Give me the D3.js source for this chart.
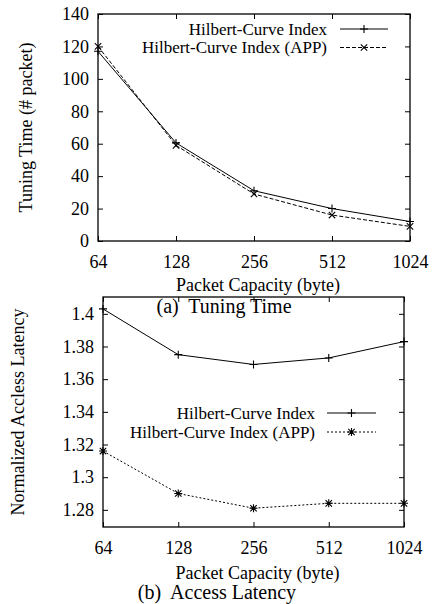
<!DOCTYPE html>
<html>
<head>
<meta charset="utf-8">
<script src="https://cdn.jsdelivr.net/npm/d3@7"></script>
<style>
  body { margin: 0; background: #fff; }
</style>
</head>
<body>
<div id="chart"></div>
<script>
const capacities = [64, 128, 256, 512, 1024];

// (a) tuning time, # packets
const tuningHilbert = [117, 60.5, 31, 20, 12];
const tuningHilbertApp = [120, 59, 29, 16, 9];
const tuningTicks = [0, 20, 40, 60, 80, 100, 120, 140];

// (b) normalized access latency
const latencyHilbert = [1.403, 1.375, 1.369, 1.373, 1.383];
const latencyHilbertApp = [1.316, 1.29, 1.281, 1.284, 1.284];
const latencyTicks = [1.28, 1.3, 1.32, 1.34, 1.36, 1.38, 1.4];

const seriesNames = ["Hilbert-Curve Index", "Hilbert-Curve Index (APP)"];

const width = 434, height = 604;
const tick_len = 5;
const marker_size = 4;
const serif = "'Liberation Serif', 'Times New Roman', serif";

const svg = d3.select("#chart").append("svg")
  .attr("width", width)
  .attr("height", height)
  .attr("font-family", serif);

function marker(g, kind, x, y) {
  const s = marker_size;
  const p = d3.path();
  if (kind === "plus" || kind === "star") {
    p.moveTo(x - s, y); p.lineTo(x + s, y);
    p.moveTo(x, y - s); p.lineTo(x, y + s);
  }
  if (kind === "cross" || kind === "star") {
    const c = s * 0.8;
    p.moveTo(x - c, y - c); p.lineTo(x + c, y + c);
    p.moveTo(x - c, y + c); p.lineTo(x + c, y - c);
  }
  g.append("path").attr("d", p.toString())
    .attr("stroke", "#000").attr("stroke-width", 1.1).attr("fill", "none");
}

function drawPanel(cfg) {
  const { box, yDomain, yTicks, yFormat, series, yLabel, yLabelX, caption, legend } = cfg;
  const x = d3.scaleLog().base(2).domain([64, 1024]).range([box.left, box.right]);
  const y = d3.scaleLinear().domain(yDomain).range([box.bottom, box.top]);
  const g = svg.append("g");

  // frame
  g.append("rect")
    .attr("x", box.left).attr("y", box.top)
    .attr("width", box.right - box.left).attr("height", box.bottom - box.top)
    .attr("fill", "none").attr("stroke", "#000").attr("stroke-width", 1.3);

  // inward ticks, mirrored on all sides
  const axisLeft = d3.axisLeft(y).tickValues(yTicks).tickSizeInner(-tick_len).tickSizeOuter(0).tickPadding(9).tickFormat(yFormat);
  const axisRight = d3.axisRight(y).tickValues(yTicks).tickSizeInner(-tick_len).tickSizeOuter(0).tickFormat("");
  const axisBottom = d3.axisBottom(x).tickValues(capacities).tickSizeInner(-tick_len).tickSizeOuter(0).tickPadding(14).tickFormat(d3.format("d"));
  const axisTop = d3.axisTop(x).tickValues(capacities).tickSizeInner(-tick_len).tickSizeOuter(0).tickFormat("");

  [
    g.append("g").attr("transform", `translate(${box.left},0)`).call(axisLeft),
    g.append("g").attr("transform", `translate(${box.right},0)`).call(axisRight),
    g.append("g").attr("transform", `translate(0,${box.bottom})`).call(axisBottom),
    g.append("g").attr("transform", `translate(0,${box.top})`).call(axisTop)
  ].forEach(a => {
    a.attr("font-family", serif).attr("font-size", 18);
    a.select(".domain").remove();
    a.selectAll("line").attr("stroke", "#000").attr("stroke-width", 1);
    a.selectAll("text").attr("fill", "#000");
  });

  // series lines + markers
  series.forEach(s => {
    const line = d3.line().x((d, i) => x(capacities[i])).y(d => y(d));
    g.append("path").datum(s.values)
      .attr("d", line)
      .attr("fill", "none").attr("stroke", "#000").attr("stroke-width", 1)
      .attr("stroke-dasharray", s.dash || null);
    s.values.forEach((v, i) => marker(g, s.marker, x(capacities[i]), y(v)));
  });

  // legend
  series.forEach((s, i) => {
    const ly = legend.y + i * legend.gap;
    g.append("text").attr("x", legend.textX).attr("y", ly).attr("dy", "0.35em")
      .attr("text-anchor", "end").attr("font-size", 17).text(s.name);
    g.append("line").attr("x1", legend.x1).attr("x2", legend.x2).attr("y1", ly).attr("y2", ly)
      .attr("stroke", "#000").attr("stroke-width", 1).attr("stroke-dasharray", s.dash || null);
    marker(g, s.marker, (legend.x1 + legend.x2) / 2, ly);
  });

  // axis titles
  g.append("text")
    .attr("transform", `translate(${yLabelX},${(box.top + box.bottom) / 2}) rotate(-90)`)
    .attr("text-anchor", "middle").attr("dy", "0.35em").attr("font-size", 18).text(yLabel);
  g.append("text").attr("x", (box.left + box.right) / 2 + 4).attr("y", cfg.xLabelY)
    .attr("text-anchor", "middle").attr("dy", "0.35em").attr("font-size", 18).text("Packet Capacity (byte)");
  g.append("text").attr("x", caption.x).attr("y", caption.y)
    .attr("text-anchor", "middle").attr("dy", "0.35em").attr("font-size", 20)
    .style("white-space", "pre").text(caption.text);
}

drawPanel({
  box: { left: 98, right: 410, top: 14, bottom: 241 },
  yDomain: [0, 140], yTicks: tuningTicks, yFormat: d3.format("d"),
  series: [
    { name: seriesNames[0], values: tuningHilbert, marker: "plus" },
    { name: seriesNames[1], values: tuningHilbertApp, marker: "cross", dash: "4,2" }
  ],
  yLabel: "Tuning Time (# packet)", yLabelX: 26, xLabelY: 285,
  caption: { x: 224, y: 306, text: "(a)  Tuning Time" },
  legend: { y: 29, gap: 18.5, textX: 327, x1: 340, x2: 388 }
});

drawPanel({
  box: { left: 103, right: 404, top: 297, bottom: 527 },
  yDomain: [1.2695, 1.4103], yTicks: latencyTicks, yFormat: d => d3.format(".2f")(d).replace(/0$/, "").replace(/\.$/, ""),
  series: [
    { name: seriesNames[0], values: latencyHilbert, marker: "plus" },
    { name: seriesNames[1], values: latencyHilbertApp, marker: "star", dash: "2,2" }
  ],
  yLabel: "Normalized Accless Latency", yLabelX: 18, xLabelY: 573,
  caption: { x: 217, y: 592, text: "(b)  Access Latency" },
  legend: { y: 413, gap: 19, textX: 315, x1: 327, x2: 376 }
});
</script>
</body>
</html>
